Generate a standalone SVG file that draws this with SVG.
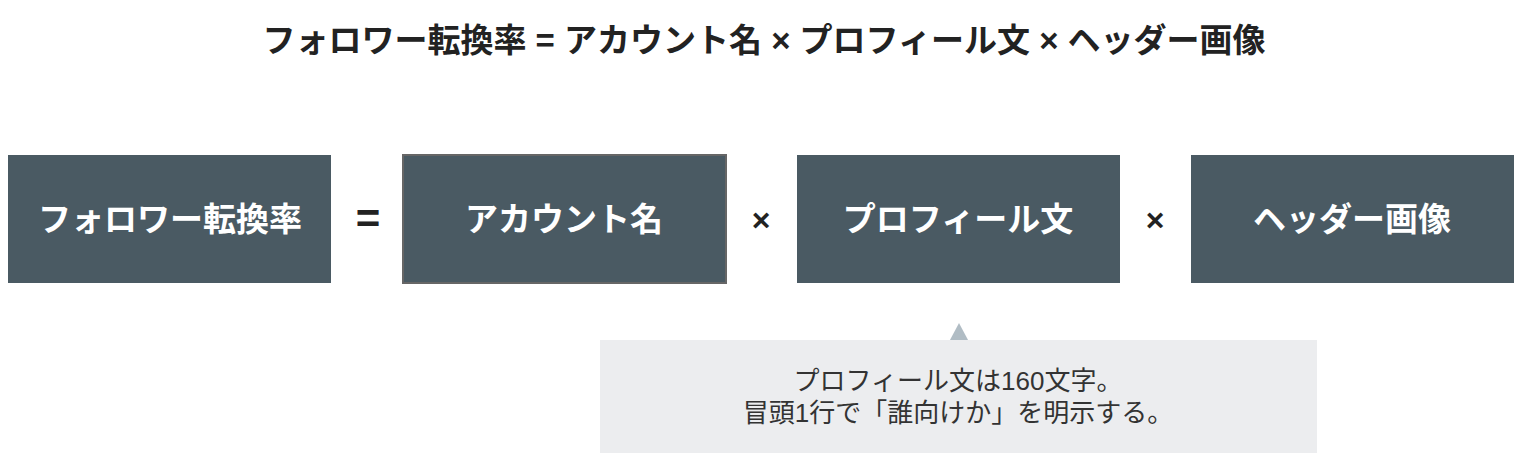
<svg xmlns="http://www.w3.org/2000/svg" width="1528" height="474" viewBox="0 0 1528 474">
<style>
.t{font-family:"Liberation Sans","Noto Sans CJK JP",sans-serif}
.title{font-size:33px;font-weight:bold;fill:#222;text-anchor:middle}
.box{fill:#4a5a63}
.lbl{font-size:33px;font-weight:bold;fill:#fff;text-anchor:middle}
.op{font-weight:bold;fill:#222;text-anchor:middle}
.note{font-size:26px;fill:#333;text-anchor:middle}
</style>
<rect width="1528" height="474" fill="#fff"/>
<text class="t title" x="764" y="52">フォロワー転換率 = アカウント名 × プロフィール文 × ヘッダー画像</text>
<g id="n1"><rect class="box" x="8" y="155" width="323" height="128"/><text class="t lbl" x="170" y="231">フォロワー転換率</text></g>
<g id="n2"><rect class="box" x="403" y="155" width="323" height="128" stroke="#666" stroke-width="2"/><text class="t lbl" x="564" y="231">アカウント名</text></g>
<g id="n3"><rect class="box" x="797" y="155" width="323" height="128"/><text class="t lbl" x="958" y="231">プロフィール文</text></g>
<g id="n4"><rect class="box" x="1191" y="155" width="323" height="128"/><text class="t lbl" x="1352" y="231">ヘッダー画像</text></g>
<g id="ops">
<text class="t op" x="368" y="233" font-size="42">=</text>
<text class="t op" x="761" y="231" font-size="32">×</text>
<text class="t op" x="1155" y="231" font-size="32">×</text>
</g>
<g id="connectors"><polygon points="959,323 950,340 968,340" fill="#b0bcc4"/></g>
<g id="note"><rect x="600" y="340" width="717" height="113" fill="#ecedef"/>
<text class="t note" x="958" y="390">プロフィール文は160文字。</text>
<text class="t note" x="958" y="422">冒頭1行で「誰向けか」を明示する。</text></g>
</svg>
